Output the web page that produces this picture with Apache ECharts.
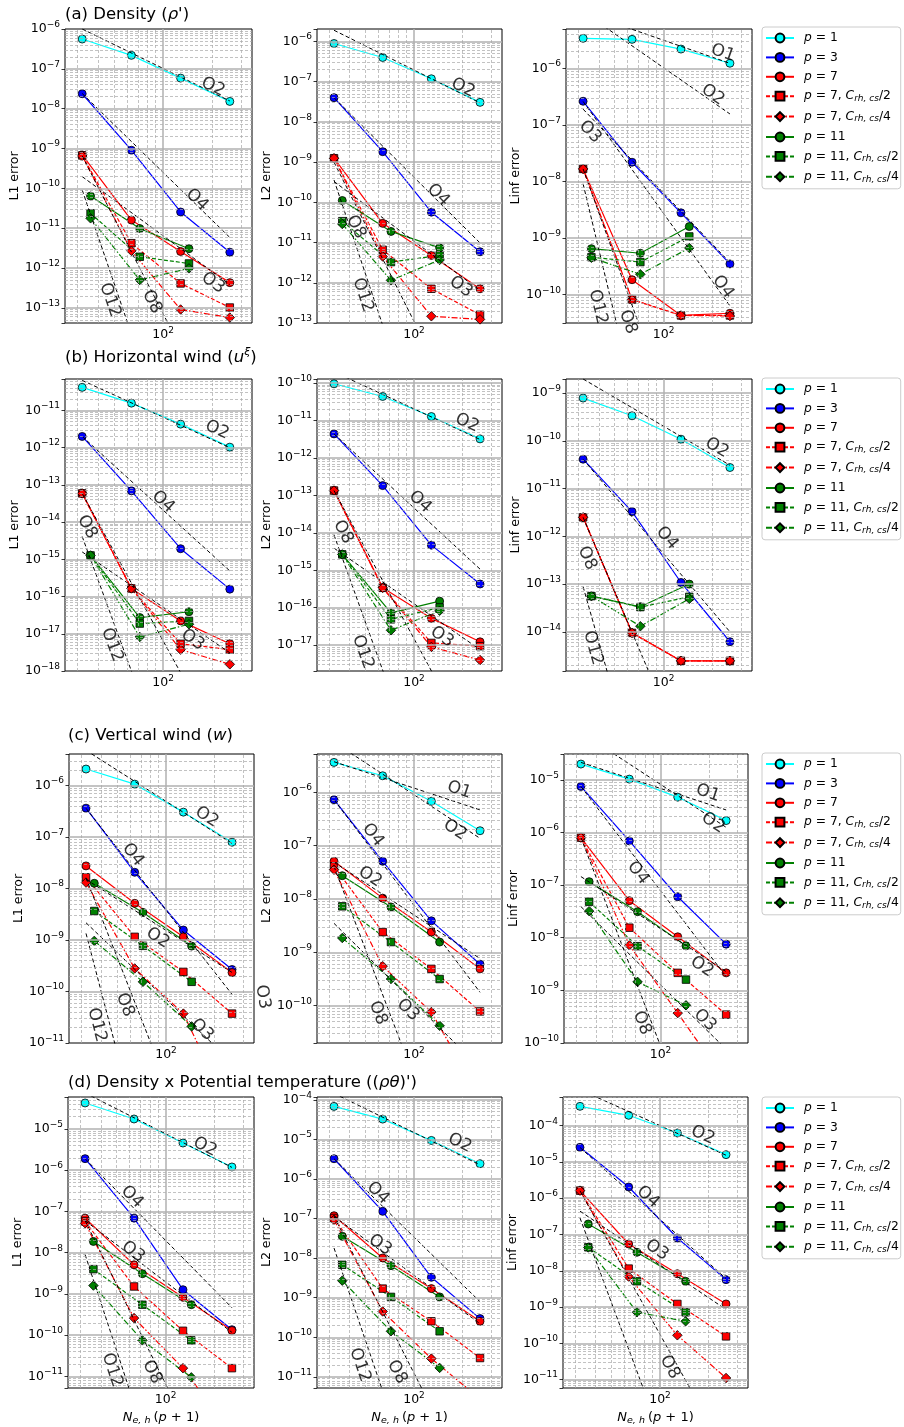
<!DOCTYPE html>
<html>
<head>
<meta charset="utf-8">
<script src="https://cdn.jsdelivr.net/npm/echarts@6.0.0/dist/echarts.min.js"></script>
<style>
  html, body { margin: 0; padding: 0; background: #ffffff; }
  #chart { width: 904px; height: 1427px; }
</style>
</head>
<body>
<div id="chart"></div>
<script>
// Horizontal resolution N_e,h (p+1) of each run
const nodesLow = [32, 64, 128, 256];   // p = 1, 3, 7 runs
const nodesP11 = [36, 72, 144];        // p = 11 runs

const seriesNames = ['p = 1', 'p = 3', 'p = 7', 'p = 7, C/2', 'p = 7, C/4', 'p = 11', 'p = 11, C/2', 'p = 11, C/4'];

// Errors, one row per series in the order of seriesNames
const densL1 = [
  [5.6e-7, 2.18e-7, 5.86e-8, 1.52e-8],
  [2.37e-8, 9.06e-10, 2.55e-11, 2.5e-12],
  [6.9e-10, 1.6e-11, 2.6e-12, 4.3e-13],
  [6.7e-10, 4.2e-12, 4.1e-13, 1.02e-13],
  [6.5e-10, 2.7e-12, 9.1e-14, 5.7e-14],
  [6.4e-11, 9.8e-12, 3.05e-12],
  [2.36e-11, 1.92e-12, 1.3e-12],
  [1.77e-11, 5.0e-13, 9.8e-13]
];
const densL2 = [
  [8.9e-7, 4.0e-7, 1.18e-7, 3.06e-8],
  [4.0e-8, 1.82e-9, 5.7e-11, 5.9e-12],
  [1.25e-9, 3.0e-11, 4.8e-12, 7.1e-13],
  [1.25e-9, 6.6e-12, 7.1e-13, 1.6e-13],
  [1.25e-9, 4.5e-12, 1.47e-13, 1.23e-13],
  [1.11e-10, 1.89e-11, 7.4e-12],
  [3.4e-11, 3.27e-12, 4.8e-12],
  [2.9e-11, 1.15e-12, 3.7e-12]
];
const densLinf = [
  [3.39e-6, 3.25e-6, 2.19e-6, 1.23e-6],
  [2.62e-7, 2.19e-8, 2.8e-9, 3.5e-10],
  [1.67e-8, 1.84e-10, 4.3e-11, 4.7e-11],
  [1.67e-8, 8.2e-11, 4.3e-11, 4.3e-11],
  [1.67e-8, 8.2e-11, 4.3e-11, 4.2e-11],
  [6.5e-10, 5.4e-10, 1.6e-9],
  [4.6e-10, 3.77e-10, 1.07e-9],
  [4.5e-10, 2.29e-10, 6.7e-10]
];
const windL1 = [
  [4.16e-11, 1.57e-11, 4.28e-12, 1.03e-12],
  [2.0e-12, 6.9e-14, 1.93e-15, 1.58e-16],
  [5.9e-14, 1.65e-16, 2.22e-17, 5.4e-18],
  [5.9e-14, 1.65e-16, 5.4e-18, 3.75e-18],
  [5.9e-14, 1.65e-16, 3.75e-18, 1.51e-18],
  [1.27e-15, 2.73e-17, 3.9e-17],
  [1.27e-15, 1.88e-17, 2.2e-17],
  [1.27e-15, 8.2e-18, 1.8e-17]
];
const windL2 = [
  [9.6e-11, 4.4e-11, 1.28e-11, 3.24e-12],
  [4.4e-12, 1.83e-13, 4.7e-15, 4.3e-16],
  [1.35e-13, 3.4e-16, 5.2e-17, 1.23e-17],
  [1.35e-13, 3.4e-16, 1.15e-17, 9.4e-18],
  [1.35e-13, 3.4e-16, 9.0e-18, 4.0e-18],
  [2.66e-15, 7.3e-17, 1.5e-16],
  [2.66e-15, 4.9e-17, 1.02e-16],
  [2.66e-15, 2.5e-17, 8.3e-17]
];
const windLinf = [
  [7.85e-10, 3.34e-10, 1.08e-10, 2.76e-11],
  [4.12e-11, 3.29e-12, 1.08e-13, 6.2e-15],
  [2.5e-12, 9.5e-15, 2.47e-15, 2.47e-15],
  [2.5e-12, 9.5e-15, 2.47e-15, 2.47e-15],
  [2.5e-12, 9.5e-15, 2.47e-15, 2.47e-15],
  [5.6e-14, 3.34e-14, 1.0e-13],
  [5.6e-14, 3.3e-14, 5.4e-14],
  [5.6e-14, 1.31e-14, 4.9e-14]
];
const vertL1 = [
  [2.08e-6, 1.06e-6, 3.03e-7, 7.9e-8],
  [3.62e-7, 2.06e-8, 1.56e-9, 2.67e-10],
  [2.74e-8, 5.14e-9, 1.15e-9, 2.33e-10],
  [1.65e-8, 1.15e-9, 2.4e-10, 3.72e-11],
  [1.3e-8, 2.8e-10, 3.72e-11, 3.8e-13],
  [1.26e-8, 3.43e-9, 7.6e-10],
  [3.65e-9, 7.7e-10, 1.54e-10],
  [9.6e-10, 1.54e-10, 2.1e-11]
];
const vertL2 = [
  [3.65e-6, 2.05e-6, 6.8e-7, 1.91e-7],
  [7.3e-7, 5.1e-8, 3.9e-9, 6.0e-10],
  [5.1e-8, 1.04e-8, 2.4e-9, 4.9e-10],
  [4.1e-8, 2.4e-9, 4.9e-10, 7.8e-11],
  [3.55e-8, 5.5e-10, 7.6e-11, 1.9e-12],
  [2.74e-8, 7.1e-9, 1.56e-9],
  [7.3e-9, 1.56e-9, 3.16e-10],
  [1.86e-9, 3.16e-10, 4.2e-11]
];
const vertLinf = [
  [1.99e-5, 1.03e-5, 4.68e-6, 1.68e-6],
  [7.47e-6, 6.9e-7, 6.0e-8, 7.55e-9],
  [7.97e-7, 5.05e-8, 1.04e-8, 2.15e-9],
  [7.97e-7, 1.55e-8, 2.15e-9, 3.46e-10],
  [7.97e-7, 7.2e-9, 3.7e-10, 1.8e-11],
  [1.16e-7, 3.12e-8, 7.0e-9],
  [4.83e-8, 6.9e-9, 1.6e-9],
  [3.2e-8, 1.45e-9, 5.2e-10]
];
const thetaL1 = [
  [4.28e-5, 1.75e-5, 4.57e-6, 1.2e-6],
  [1.91e-6, 6.9e-8, 1.27e-9, 1.36e-10],
  [6.9e-8, 5.1e-9, 8.3e-10, 1.3e-10],
  [5.75e-8, 1.52e-9, 1.28e-10, 1.59e-11],
  [5.2e-8, 2.6e-10, 1.59e-11, 4.0e-13],
  [1.88e-8, 3.1e-9, 5.5e-10],
  [4.0e-9, 5.5e-10, 7.5e-11],
  [1.6e-9, 7.5e-11, 9.5e-12]
];
const thetaL2 = [
  [6.8e-5, 3.25e-5, 9.4e-6, 2.43e-6],
  [3.24e-6, 1.52e-7, 3.28e-9, 2.97e-10],
  [1.18e-7, 1.01e-8, 1.7e-9, 2.54e-10],
  [1.03e-7, 1.7e-9, 2.54e-10, 3.0e-11],
  [9.3e-8, 4.5e-10, 2.9e-11, 2.8e-12],
  [3.56e-8, 6.46e-9, 1.05e-9],
  [6.8e-9, 1.05e-9, 1.42e-10],
  [2.7e-9, 1.42e-10, 1.69e-11]
];
const thetaLinf = [
  [3.41e-4, 1.93e-4, 6.28e-5, 1.59e-5],
  [2.53e-5, 2.04e-6, 8.0e-8, 5.7e-9],
  [1.62e-6, 5.48e-8, 8.3e-9, 1.22e-9],
  [1.62e-6, 1.15e-8, 1.22e-9, 1.56e-10],
  [1.62e-6, 6.9e-9, 1.67e-10, 1.11e-11],
  [1.95e-7, 3.23e-8, 5.13e-9],
  [4.44e-8, 5.13e-9, 7.18e-10],
  [4.4e-8, 7.2e-10, 4.06e-10]
];

// Convergence guides: [order, error at N = 32]
const densL1Ref = [[2, 1e-6], [4, 2.4e-8], [3, 1.97e-10], [8, 6.5e-10], [12, 9.1e-11]];
const densL2Ref = [[2, 1.9e-6], [4, 4.0e-8], [3, 3.3e-10], [8, 1.0e-9], [12, 3.6e-10]];
const densLinfRef = [[1, 9.8e-6], [2, 1e-5], [3, 1.9e-7], [4, 2.6e-7], [8, 1.67e-8], [12, 9.1e-9]];
const windL1Ref = [[2, 6.4e-11], [4, 2.0e-12], [3, 1.58e-15], [8, 5.9e-14], [12, 4.1e-15]];
const windL2Ref = [[2, 2.0e-10], [4, 4.4e-12], [3, 3.9e-15], [8, 1.35e-13], [12, 8.8e-15]];
const windLinfRef = [[2, 1.97e-9], [4, 4.1e-11], [8, 2.5e-12], [12, 8.8e-14]];
const vertL1Ref = [[2, 4.8e-6], [4, 3.6e-7], [2, 1.5e-8], [3, 2.16e-9], [8, 1.6e-8], [12, 1.34e-9]];
const vertL2Ref = [[1, 3.76e-6], [2, 8.8e-6], [4, 7.3e-7], [2, 4.9e-8], [3, 3.5e-9], [8, 4.1e-8]];
const vertLinfRef = [[1, 2.14e-5], [2, 8e-5], [4, 7.47e-6], [2, 1.45e-7], [3, 3.9e-8], [8, 8e-7]];
const thetaL1Ref = [[2, 7.5e-5], [4, 1.9e-6], [3, 6.0e-8], [8, 6.0e-8], [12, 9e-9]];
const thetaL2Ref = [[2, 1.45e-4], [4, 3.24e-6], [3, 1.13e-7], [8, 1.13e-7], [12, 1.8e-8]];
const thetaLinfRef = [[2, 9.8e-4], [4, 2.5e-5], [3, 4.4e-7], [8, 1.6e-6], [12, 2.85e-7]];

// Guide tags: [text, N, error, optional rotation]
const densL1Tags = [['O2', 202, 3.5e-8], ['O4', 161, 5.1e-11], ['O3', 202, 4.2e-13], ['O12', 47.3, 1.58e-13], ['O8', 85.5, 1.41e-13]];
const densL2Tags = [['O2', 201, 7.0e-8], ['O4', 141, 1.52e-10], ['O3', 195, 7.9e-13], ['O8', 43.7, 2.44e-11], ['O12', 48.3, 5.0e-13]];
const densLinfTags = [['O1', 232, 1.87e-6], ['O2', 201, 3.4e-7], ['O3', 35.3, 7.5e-8], ['O4', 232, 1.37e-10], ['O12', 39.5, 6.1e-11], ['O8', 60.4, 3.3e-11]];
const windL1Tags = [['O2', 214, 2.98e-12], ['O4', 100, 3.47e-14], ['O8', 34.3, 7.4e-15], ['O3', 152, 6.8e-18], ['O12', 48.7, 5.0e-18]];
const windL2Tags = [['O2', 213, 8.6e-12], ['O4', 109, 6.7e-14], ['O8', 36.4, 1.05e-14], ['O3', 149, 1.66e-17], ['O12', 48.3, 6.6e-18]];
const windLinfTags = [['O2', 213, 7.1e-11], ['O4', 105, 9.2e-13], ['O8', 33.8, 3.5e-13], ['O12', 36.8, 4.6e-15]];
const vertL1Tags = [['O2', 179, 2.44e-7], ['O4', 62.5, 4.5e-8], ['O2', 89, 1.09e-9], ['O3', 167, 1.79e-11], ['O8', 55.7, 5.5e-11], ['O12', 37.4, 2.24e-11]];
const vertL2Tags = [['O1', 190, 1.11e-6], ['O2', 179, 1.97e-7], ['O4', 55.7, 1.59e-7], ['O2', 53.5, 2.6e-8], ['O8', 59.8, 7.3e-11], ['O3', 91.8, 8.3e-11], ['O3', 11.6, 1.46e-10, -80]];
const vertLinfTags = [['O1', 197, 5.6e-6], ['O2', 212, 1.51e-6], ['O4', 72.4, 1.7e-7], ['O2', 181, 2.8e-9], ['O3', 189, 2.7e-10], ['O8', 76.7, 2.4e-10]];
const thetaL1Tags = [['O2', 175, 3.66e-6], ['O4', 62.2, 2.24e-7], ['O3', 63.1, 1.04e-8], ['O8', 82.6, 1.28e-11], ['O12', 46.9, 1.43e-11]];
const thetaL2Tags = [['O2', 192, 8.1e-6], ['O4', 59.8, 4.4e-7], ['O3', 61.6, 2.15e-8], ['O8', 78.5, 1.33e-11], ['O12', 46.3, 2.0e-11]];
const thetaLinfTags = [['O2', 184, 5.5e-5], ['O4', 84.3, 1.08e-6], ['O3', 95.7, 3.7e-8], ['O8', 115, 2.2e-11]];

// ---- layout and styling ----
const FONT = 'DejaVu Sans';
const X_LOG = [1.4, 2.544];

const panels = [
  { rows: densL1, refs: densL1Ref, tags: densL1Tags, box: [65, 29, 187, 294], yLog: [-13.38, -6], yName: 'L1 error' },
  { rows: densL2, refs: densL2Ref, tags: densL2Tags, box: [317, 29, 185, 294], yLog: [-13, -5.69], yName: 'L2 error' },
  { rows: densLinf, refs: densLinfRef, tags: densLinfTags, box: [566, 29, 186, 294], yLog: [-10.5, -5.305], yName: 'Linf error' },
  { rows: windL1, refs: windL1Ref, tags: windL1Tags, box: [65, 379, 187, 292], yLog: [-18, -10.156], yName: 'L1 error' },
  { rows: windL2, refs: windL2Ref, tags: windL2Tags, box: [317, 379, 185, 292], yLog: [-17.69, -9.89], yName: 'L2 error' },
  { rows: windLinf, refs: windLinfRef, tags: windLinfTags, box: [566, 379, 186, 292], yLog: [-14.82, -8.706], yName: 'Linf error' },
  { rows: vertL1, refs: vertL1Ref, tags: vertL1Tags, box: [69, 754, 185, 289], yLog: [-11, -5.39], yName: 'L1 error' },
  { rows: vertL2, refs: vertL2Ref, tags: vertL2Tags, box: [317, 754, 185, 289], yLog: [-10.7, -5.28], yName: 'L2 error' },
  { rows: vertLinf, refs: vertLinfRef, tags: vertLinfTags, box: [564, 754, 184, 289], yLog: [-10, -4.51], yName: 'Linf error' },
  { rows: thetaL1, refs: thetaL1Ref, tags: thetaL1Tags, box: [68, 1097, 186, 291], yLog: [-11.28, -4.224], yName: 'L1 error', xName: true },
  { rows: thetaL2, refs: thetaL2Ref, tags: thetaL2Tags, box: [317, 1097, 185, 291], yLog: [-11.28, -3.93], yName: 'L2 error', xName: true },
  { rows: thetaLinf, refs: thetaLinfRef, tags: thetaLinfTags, box: [563, 1097, 185, 291], yLog: [-11.23, -3.21], yName: 'Linf error', xName: true }
];

const looks = [
  { color: '#00ffff', symbol: 'circle', size: 8, dash: 'solid' },
  { color: '#0000ff', symbol: 'circle', size: 8, dash: 'solid' },
  { color: '#ff0000', symbol: 'circle', size: 8, dash: 'solid' },
  { color: '#ff0000', symbol: 'rect', size: 7.5, dash: [4, 2] },
  { color: '#ff0000', symbol: 'diamond', size: 9.5, dash: [6, 2, 1.5, 2] },
  { color: '#008000', symbol: 'circle', size: 8, dash: 'solid' },
  { color: '#008000', symbol: 'rect', size: 7.5, dash: [4, 2] },
  { color: '#008000', symbol: 'diamond', size: 9.5, dash: [6, 2, 1.5, 2] }
];

const legendTops = [27, 378, 753, 1097];
const titles = [
  { text: '{n|(a) Density (}{i|ρ}{n|\')}', left: 65, top: 4 },
  { text: '{n|(b) Horizontal wind (}{i|u}{sup|ξ}{n|)}', left: 65, top: 347 },
  { text: '{n|(c) Vertical wind (}{i|w}{n|)}', left: 68, top: 725 },
  { text: '{n|(d) Density x Potential temperature ((}{i|ρθ}{n|)\')}', left: 68, top: 1072 }
];

const majorLine = { color: '#b0b0b0', width: 1.5, type: 'solid' };
const minorLine = { color: '#a8a8a8', width: 0.7, type: [3, 2] };

function powLabel(v) {
  const l = Math.log10(v);
  const r = Math.round(l);
  if (Math.abs(l - r) > 1e-4) return '';
  return '{b|10}{s|' + (r < 0 ? '\u2212' : '') + Math.abs(r) + '}';
}
const powRich = {
  b: { fontFamily: FONT, fontSize: 12.5, color: '#000', lineHeight: 18 },
  s: { fontFamily: FONT, fontSize: 9, color: '#000', lineHeight: 8, verticalAlign: 'top' }
};

function legendText(name) {
  const m = name.match(/^p = (\d+)(, C\/(\d))?$/);
  let s = '{i|p}{n| = ' + m[1] + '}';
  if (m[2]) s = '{i|p}{n| = ' + m[1] + ', }{i|C}{sub|rh, cs}{n|/' + m[3] + '}';
  return s;
}

// background grid: solid lines at decades, dashed lines at 2..9 x decade
function gridMarks(p) {
  const out = [];
  const xLo = Math.pow(10, X_LOG[0]), xHi = Math.pow(10, X_LOG[1]);
  const yLo = Math.pow(10, p.yLog[0]), yHi = Math.pow(10, p.yLog[1]);
  const lo = p.yLog[0], hi = p.yLog[1];
  for (let k = Math.floor(lo); k <= Math.ceil(hi); k++) {
    for (let m = 1; m <= 9; m++) {
      const l = Math.log10(m) + k;
      if (l <= lo + 0.01 || l >= hi - 0.01) continue;
      const v = m * Math.pow(10, k);
      const ls = m === 1 ? majorLine : minorLine;
      out.push([{ coord: [xLo, v], lineStyle: ls }, { coord: [xHi, v], lineStyle: ls }]);
    }
  }
  for (let k = 1; k <= 2; k++) {
    for (let m = 1; m <= 9; m++) {
      const l = Math.log10(m) + k;
      if (l <= X_LOG[0] + 0.01 || l >= X_LOG[1] - 0.01) continue;
      const v = m * Math.pow(10, k);
      const ls = m === 1 ? majorLine : minorLine;
      out.push([{ coord: [v, yLo], lineStyle: ls }, { coord: [v, yHi], lineStyle: ls }]);
    }
  }
  return out;
}

const grid = [], xAxis = [], yAxis = [], series = [];

panels.forEach((p, gi) => {
  const [left, top, width, height] = p.box;
  grid.push({ left, top, width, height, show: true, borderColor: '#000', borderWidth: 1, backgroundColor: 'rgba(0,0,0,0)' });
  xAxis.push({
    type: 'log', logBase: 10, gridIndex: gi,
    min: Math.pow(10, X_LOG[0]), max: Math.pow(10, X_LOG[1]),
    axisLine: { show: false }, axisTick: { show: false }, splitLine: { show: false },
    axisLabel: { formatter: powLabel, rich: powRich, margin: 3, color: '#000' },
    name: p.xName ? '{i|N}{sub|e, h}{n|(}{i|p}{n| + 1)}' : '',
    nameLocation: 'middle', nameGap: 22,
    nameTextStyle: {
      rich: {
        n: { fontFamily: FONT, fontSize: 13, color: '#000', lineHeight: 16 },
        i: { fontFamily: FONT, fontSize: 13, fontStyle: 'italic', color: '#000', lineHeight: 16 },
        sub: { fontFamily: FONT, fontSize: 9.5, fontStyle: 'italic', color: '#000', lineHeight: 9, verticalAlign: 'bottom', padding: [0, 3, 0, 0] }
      }
    }
  });
  yAxis.push({
    type: 'log', logBase: 10, gridIndex: gi,
    min: Math.pow(10, p.yLog[0]), max: Math.pow(10, p.yLog[1]),
    axisLine: { show: false }, splitLine: { show: false },
    axisTick: { show: true, length: 3.5, lineStyle: { color: '#000', width: 0.8 } },
    axisLabel: { formatter: powLabel, rich: powRich, margin: 5, color: '#000' },
    name: p.yName, nameLocation: 'middle', nameGap: 39,
    nameTextStyle: { fontFamily: FONT, fontSize: 12.5, color: '#000' }
  });

  // grid lines
  series.push({
    type: 'line', name: 'grid-' + gi, xAxisIndex: gi, yAxisIndex: gi, data: [],
    silent: true, z: 1, animation: false,
    markLine: { silent: true, symbol: 'none', animation: false, label: { show: false }, data: gridMarks(p) }
  });

  // measured errors
  p.rows.forEach((vals, si) => {
    const look = looks[si];
    const xs = si < 5 ? nodesLow : nodesP11;
    series.push({
      type: 'line', name: seriesNames[si], xAxisIndex: gi, yAxisIndex: gi,
      data: vals.map((v, i) => [xs[i], v]),
      symbol: look.symbol, symbolSize: look.size, showSymbol: true,
      itemStyle: { color: look.color, borderColor: '#000', borderWidth: 0.8 },
      lineStyle: { color: look.color, width: 1.2, type: look.dash },
      emphasis: { disabled: true }, animation: false, clip: true, z: 3
    });
  });

  // convergence guides
  p.refs.forEach((r, ri) => {
    const [order, y0] = r;
    const x0 = nodesLow[0], x1 = nodesLow[nodesLow.length - 1];
    series.push({
      type: 'line', name: 'guide-' + gi + '-' + ri, xAxisIndex: gi, yAxisIndex: gi,
      data: [[x0, y0], [x1, y0 * Math.pow(x1 / x0, -order)]],
      symbol: 'none', silent: true, clip: true, animation: false, z: 4,
      lineStyle: { color: '#000', width: 1, type: [4, 2.5] },
      emphasis: { disabled: true }
    });
  });

  // guide tags rotated along their slope
  const pxPerDecX = width / (X_LOG[1] - X_LOG[0]);
  const pxPerDecY = height / (p.yLog[1] - p.yLog[0]);
  series.push({
    type: 'scatter', name: 'tags-' + gi, xAxisIndex: gi, yAxisIndex: gi,
    symbolSize: 0.1, silent: true, clip: false, animation: false, z: 5,
    data: p.tags.map(t => {
      const order = parseInt(t[0].slice(1), 10);
      const rot = t.length > 3 ? t[3] : -Math.atan(order * pxPerDecY / pxPerDecX) * 180 / Math.PI;
      return {
        value: [t[1], t[2]],
        label: { show: true, position: 'inside', formatter: t[0], rotate: rot, fontFamily: FONT, fontSize: 17, color: '#000' }
      };
    }),
    itemStyle: { color: 'rgba(0,0,0,0)' }
  });
});

const legend = legendTops.map(top => ({
  orient: 'vertical', left: 762, top,
  data: seriesNames, selectedMode: false,
  itemWidth: 28, itemHeight: 11, itemGap: 7.4,
  padding: [5, 2, 5, 3],
  backgroundColor: '#ffffff', borderColor: '#cccccc', borderWidth: 1, borderRadius: 3,
  formatter: legendText,
  textStyle: {
    padding: [0, 0, 0, 5],
    rich: {
      n: { fontFamily: FONT, fontSize: 12.3, color: '#000', lineHeight: 14 },
      i: { fontFamily: FONT, fontSize: 12.3, fontStyle: 'italic', color: '#000', lineHeight: 14 },
      sub: { fontFamily: FONT, fontSize: 9, fontStyle: 'italic', color: '#000', lineHeight: 9, verticalAlign: 'bottom' }
    }
  }
}));

const title = titles.map(t => ({
  text: t.text, left: t.left, top: t.top, padding: 0,
  textStyle: {
    fontWeight: 'normal',
    rich: {
      n: { fontFamily: FONT, fontSize: 16.5, fontWeight: 'normal', color: '#000', lineHeight: 22 },
      i: { fontFamily: FONT, fontSize: 16.5, fontWeight: 'normal', fontStyle: 'italic', color: '#000', lineHeight: 22 },
      sup: { fontFamily: FONT, fontSize: 11, fontWeight: 'normal', fontStyle: 'italic', color: '#000', lineHeight: 12, verticalAlign: 'top' }
    }
  }
}));

const chart = echarts.init(document.getElementById('chart'), null, { renderer: 'canvas', width: 904, height: 1427 });
chart.setOption({
  backgroundColor: '#ffffff',
  animation: false,
  title, legend, grid, xAxis, yAxis, series
});
</script>
</body>
</html>
